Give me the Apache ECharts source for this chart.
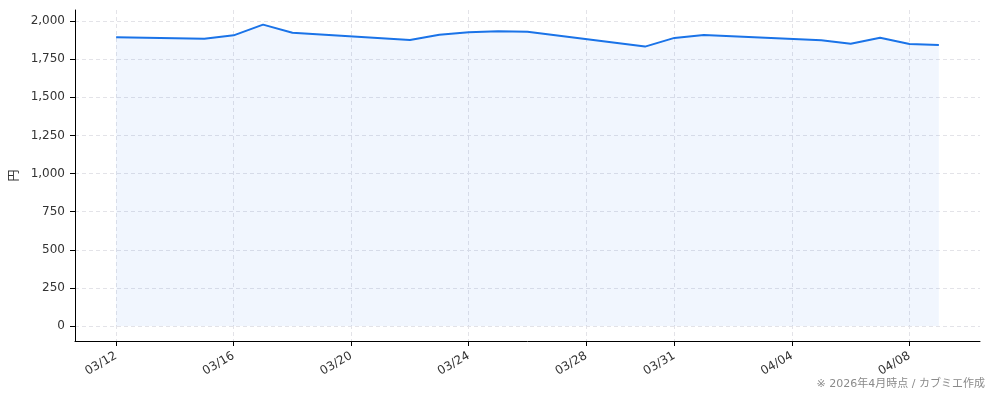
<!DOCTYPE html>
<html lang="ja">
<head>
    <meta charset="UTF-8">
    <script src="https://cdn.jsdelivr.net/npm/echarts@6/dist/echarts.min.js"></script>
    <title>Chart</title>
    <style>
        html, body { margin: 0; padding: 0; background: #fff; }
        #chart { width: 994px; height: 401px; }
    </style>
</head>
<body>
    <div id="chart"></div>
<script>
    // 日付と終値（円）
    var dates = ['2026-03-12', '2026-03-15', '2026-03-16', '2026-03-17', '2026-03-18',
        '2026-03-22', '2026-03-23', '2026-03-24', '2026-03-25', '2026-03-26',
        '2026-03-30', '2026-03-31', '2026-04-01', '2026-04-05', '2026-04-06',
        '2026-04-07', '2026-04-08', '2026-04-09'];
    var prices = [1893, 1884, 1906, 1976, 1923,
        1875, 1910, 1926, 1932, 1930,
        1832, 1889, 1908, 1873, 1851,
        1890, 1849, 1843];
    var xTickDates = ['2026-03-12', '2026-03-16', '2026-03-20', '2026-03-24',
        '2026-03-28', '2026-03-31', '2026-04-04', '2026-04-08'];
    var yTicks = [0, 250, 500, 750, 1000, 1250, 1500, 1750, 2000];

    // 日付 → 03/12 からの経過日数（数値軸で描く）
    var DAY = 86400000;
    function toTime(s) {
        var p = s.split('-');
        return Date.UTC(+p[0], +p[1] - 1, +p[2]);
    }
    var t0 = toTime(dates[0]);
    function toDay(s) { return Math.round((toTime(s) - t0) / DAY); }

    var lastDay = toDay(dates[dates.length - 1]);
    var pad = lastDay * 0.05;
    var seriesData = dates.map(function (d, i) { return [toDay(d), prices[i]]; });
    var xTicks = xTickDates.map(toDay);

    var font = '"DejaVu Sans", "Noto Sans CJK JP", sans-serif';
    var gridLine = { show: true, lineStyle: { color: '#e3e3e8', type: [4, 3], width: 1 } };

    var myChart = echarts.init(document.getElementById('chart'));
    myChart.setOption({
        animation: false,
        textStyle: { fontFamily: font },
        grid: { left: 75, right: 14, top: 10, bottom: 60, outerBoundsMode: 'none', containLabel: false },
        xAxis: {
            type: 'value',
            min: -pad,
            max: lastDay + pad,
            axisLine: { onZero: false, lineStyle: { color: '#000', width: 1 } },
            axisTick: { show: true, length: 5, customValues: xTicks, lineStyle: { color: '#000' } },
            axisLabel: {
                customValues: xTicks,
                rotate: 30,
                margin: 14,
                color: '#333',
                fontSize: 12,
                fontFamily: font,
                formatter: function (v) {
                    var d = new Date(t0 + v * DAY);
                    var m = d.getUTCMonth() + 1, dd = d.getUTCDate();
                    return (m < 10 ? '0' : '') + m + '/' + (dd < 10 ? '0' : '') + dd;
                }
            },
            splitLine: gridLine
        },
        yAxis: {
            type: 'value',
            min: -98,
            max: 2072,
            name: '円',
            nameLocation: 'middle',
            nameGap: 54,
            nameTextStyle: { color: '#333', fontSize: 12, fontFamily: '"Noto Sans CJK JP", sans-serif' },
            axisLine: { show: true, onZero: false, lineStyle: { color: '#000', width: 1 } },
            axisTick: { show: true, length: 5, customValues: yTicks, lineStyle: { color: '#000' } },
            axisLabel: {
                customValues: yTicks,
                margin: 10,
                color: '#333',
                fontSize: 12,
                fontFamily: font,
                formatter: function (v) { return v.toLocaleString('en-US'); }
            },
            splitLine: gridLine
        },
        series: [{
            type: 'line',
            data: seriesData,
            showSymbol: false,
            lineStyle: { color: '#1a73e8', width: 2 },
            itemStyle: { color: '#1a73e8' },
            areaStyle: { color: 'rgba(26,115,232,0.09)', origin: 0 }
        }],
        graphic: [{
            type: 'text',
            right: 9,
            top: 379,
            style: {
                text: '※ 2026年4月時点 / カブミエ作成',
                fill: '#8a8a8a',
                fontSize: 11,
                fontFamily: font
            }
        }]
    });
</script>
</body>
</html>
